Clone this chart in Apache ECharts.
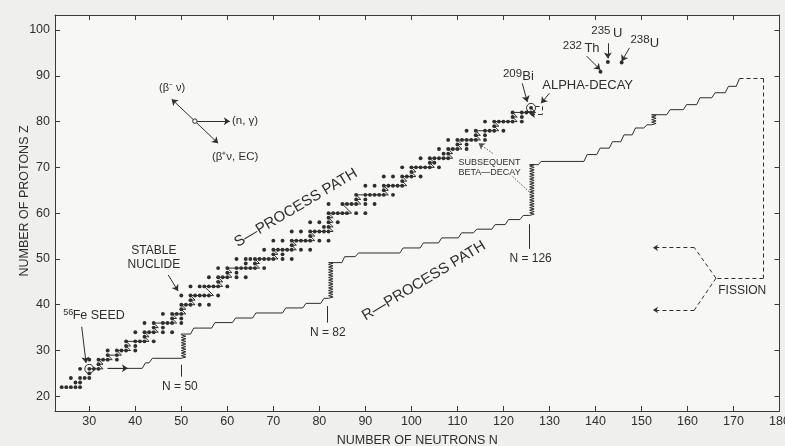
<!DOCTYPE html>
<html><head><meta charset="utf-8">
<script src="https://cdn.jsdelivr.net/npm/echarts@6/dist/echarts.min.js"></script>
<style>html,body{margin:0;padding:0;background:#efefed;}#c{width:785px;height:446px;}</style>
</head><body><div id="c"></div>
<script>
// ---------- axis ticks ----------
const xTicks = [30,40,50,60,70,80,90,100,110,120,130,140,150,160,170,180];
const yTicks = [20,30,40,50,60,70,80,90,100];

// ---------- stable nuclides (Z and their neutron numbers N) ----------
const stableZ = [22,23,24,25,26,27,28,29,30,31,32,33,34,35,36,37,38,39,40,41,42,44,45,46,47,48,49,50,51,52,53,54,55,56,57,58,59,60,62,63,64,65,66,67,68,69,70,71,72,73,74,75,76,77,78,79,80,81,82,83];
const stableN = [
[24,25,26,27,28],[27,28],[26,28,29,30],[30],[28,30,31,32],[32],[30,32,33,34,36],[34,36],
[34,36,37,38,40],[38,40],[38,40,41,42,44],[42],[40,42,43,44,46,48],[44,46],[42,44,46,47,48,50],
[48,50],[46,48,49,50],[50],[50,51,52,54,56],[52],[50,52,53,54,55,56,58],[52,54,55,56,57,58,60],
[58],[56,58,59,60,62,64],[60,62],[58,60,62,63,64,65,66,68],[64,66],[62,64,65,66,67,68,69,70,72,74],
[70,72],[68,70,71,72,73,74,76,78],[74],[70,72,74,75,76,77,78,80,82],[78],[74,76,78,79,80,81,82],
[81,82],[78,80,82,84],[82],[82,83,84,85,86,88,90],[82,85,86,87,88,90,92],[88,90],
[88,90,91,92,93,94,96],[94],[90,92,94,95,96,97,98],[98],[94,96,98,99,100,102],[100],
[98,100,101,102,103,104,106],[104,105],[102,104,105,106,107,108],[107,108],[106,108,109,110,112],
[110,112],[108,110,111,112,113,114,116],[114,116],[112,114,116,117,118,120],[118],
[116,118,119,120,121,122,124],[122,124],[122,124,125,126],[126]
];
// Th / U nuclei as drawn
const heavyN = [141.1, 142.7, 145.7];
const heavyZ = [90.9, 93.0, 92.9];
// circled nuclei: 56Fe seed, 209Bi
const circledN = [30, 126];
const circledZ = [26, 83];

// ---------- s-process path ----------
const sPathN = [30,33,32,33,32,35,34,37,36,39,38,39,38,43,42,43,42,45,44,45,44,49,48,49,48,51,50,51,50,53,52,53,52,57,56,55,59,58,59,58,61,60,61,60,67,66,67,66,71,70,71,70,75,74,75,74,79,78,79,78,83,82,83,82,83,82,83,82,87,86,85,89,88,89,88,95,94,95,94,99,98,99,98,101,100,101,100,105,104,105,104,109,108,109,108,111,110,111,110,115,114,115,114,119,118,119,118,123,122,123,122,127,126];
const sPathZ = [26,26,27,27,28,28,29,29,30,30,31,31,32,32,33,33,34,34,35,35,36,36,37,37,38,38,39,39,40,40,41,41,42,42,43,44,44,45,45,46,46,47,47,48,48,49,49,50,50,51,51,52,52,53,53,54,54,55,55,56,56,57,57,58,58,59,59,60,60,61,62,62,63,63,64,64,65,65,66,66,67,67,68,68,69,69,70,70,71,71,72,72,73,73,74,74,75,75,76,76,77,77,78,78,79,79,80,80,81,81,82,82,83];

// ---------- r-process path (segments between the magic-number risers) ----------
const rSegA_N = [34,41.5,42.2,43.0,43.7,50];
const rSegA_Z = [26.1,26.1,27.3,27.3,28.3,28.3];
const rSegB_N = [50,52.0,52.7,56.6,57.3,61.1,61.8,65.5,66.2,72.0,72.7,76.4,77.1,80.3,81.0,82];
const rSegB_Z = [33.6,33.6,34.9,34.9,36.1,36.1,37.1,37.1,38.2,38.2,39.3,39.3,40.3,40.3,41.4,41.4];
const rSegC_N = [82,84.9,85.5,87.8,88.5,97.5,98.2,101.9,102.6,105.9,106.6,110.2,110.9,113.5,114.2,117.5,118.2,120.4,121.1,123.6,124.3,125.7];
const rSegC_Z = [49.2,49.2,50.5,50.5,51.3,51.3,52.4,52.4,53.5,53.5,54.6,54.6,55.7,55.7,56.5,56.5,57.5,57.5,58.6,58.6,59.5,59.5];
const rSegD_N = [125.7,127.6,128.2,137.5,138.2,140.3,141.0,143.0,143.7,145.5,146.2,148.0,148.7,150.5,151.2,152.2];
const rSegD_Z = [70.6,70.6,71.3,71.3,72.8,72.8,74.2,74.2,75.6,75.6,77.1,77.1,78.6,78.6,79.3,79.3];
const rSegE_N = [152.2,155.5,156.2,159.1,159.8,162.0,162.7,165.3,166.0,168.2,168.9,170.6,171.3];
const rSegE_Z = [81.5,81.5,82.6,82.6,83.7,83.7,85.2,85.2,86.3,86.3,87.7,87.7,89.4];
// vertical risers at closed shells: [N, Zbottom, Ztop]
const rRisers = [[50,28.3,33.6],[82,41.4,49.2],[125.7,59.5,70.6],[152.2,79.3,81.5]];

// ---------- dashed fission / alpha paths ----------
const fissionPathN = [171.3,176.5,176.5,166.2];
const fissionPathZ = [89.4,89.4,45.8,45.8];
const fissionUpN = [166.2,161.5,152.5];
const fissionUpZ = [45.8,52.45,52.45];
const fissionLowN = [166.2,161.5,152.5];
const fissionLowZ = [45.8,38.85,38.85];
const alphaN = [127.0,128.4,128.4,125.8];
const alphaZ = [83.3,83.3,81.5,81.5];

// ---------- annotation arrows [fromN, fromZ, toN, toZ] ----------
const pointerArrows = [
  [34,26.1,38.4,26.1],        // r-path direction
  [28.35,35.2,29.3,27.3],     // 56Fe seed
  [47.15,46.5,49.3,43.0],     // stable nuclide
  [124.1,88.35,125.2,84.3],   // 209Bi
  [130.0,86.2,128.2,84.0],    // alpha-decay
  [138.1,94.3,141.05,91.3],   // 232Th
  [142.7,97.1,142.7,93.8],    // 235U
  [147.4,96.1,145.7,93.2],    // 238U
  [52.95,80.1,60.55,80.1],    // (n,gamma)
  [52.95,80.1,47.9,84.9],     // beta-
  [52.95,80.1,58.0,75.25]     // beta+
];
const dottedArrows = [[117.7,73.05,114.6,75.25]];
const dottedLines = [[122.0,68.0,125.55,64.7]];
const plainLines = [[49.9,26.9,49.9,24.3],[81.7,39.7,81.7,36.1],[125.7,57.6,125.7,52.2]];
const legendOrigin = [[52.95,80.1]];

// ---------- text annotations ----------
const annoText = ['(n, γ)','(β⁻ ν)','(β⁺ν, EC)','56','Fe SEED','STABLE\nNUCLIDE','S—PROCESS PATH','R—PROCESS PATH',
  'N = 50','N = 82','N = 126','SUBSEQUENT\nBETA—DECAY','209','Bi','ALPHA-DECAY','232','Th','235','U','238','U','FISSION'];
const annoN = [61.0,48.0,56.65,24.35,26.4,44.05,74.9,102.7,49.7,81.85,125.9,117.0,119.9,124.1,138.3,132.9,137.6,139.1,143.8,147.6,151.8,171.9];
const annoZ = [80.1,87.35,72.3,38.3,37.6,50.3,61.15,45.2,22.0,34.0,50.0,70.05,90.4,89.8,88.0,96.5,96.0,99.85,99.3,97.96,97.1,43.0];

// ---------- styling (not data) ----------
const INK = '#2e2e2e';
const AX = '#3a3a3a';
const FONT = '"Liberation Sans", Arial, Helvetica, sans-serif';
const annoStyle = [
  {fs:11.5,al:'left'},{fs:11,al:'center'},{fs:11.5,al:'left'},{fs:9,al:'left'},{fs:12.5,al:'left'},
  {fs:12,al:'center',lh:13.5},{fs:15,al:'center',rot:30.7},{fs:15,al:'center',rot:31},
  {fs:12,al:'center'},{fs:12,al:'center'},{fs:12,al:'center'},{fs:9,al:'center',lh:10},
  {fs:11.5,al:'left'},{fs:13,al:'left'},{fs:13,al:'center'},{fs:11.5,al:'left'},{fs:13,al:'left'},
  {fs:11.5,al:'left'},{fs:13,al:'left'},{fs:11.5,al:'left'},{fs:13,al:'left'},{fs:12,al:'center'}
];

function zip(a,b){ const o=[]; for(let i=0;i<Math.min(a.length,b.length);i++) o.push([a[i],b[i]]); return o; }
function segs(list){ return list.map(s=>({coords:[[s[0],s[1]],[s[2],s[3]]]})); }
function polySegs(ns,zs){ const o=[]; for(let i=0;i<ns.length-1;i++) o.push({coords:[[ns[i],zs[i]],[ns[i+1],zs[i+1]]]}); return o; }

const stableData = [];
stableZ.forEach((z,i)=>stableN[i].forEach(n=>stableData.push([n,z])));

function pathSeries(ns,zs){
  return {type:'line', data:zip(ns,zs), showSymbol:false, symbol:'none', silent:true, z:3,
    lineStyle:{color:INK,width:1}, animation:false};
}

const option = {
  animation:false,
  backgroundColor:'#efefed',
  textStyle:{fontFamily:FONT},
  grid:{left:55,right:5.5,top:15,bottom:35,show:true,backgroundColor:'#f7f7f5',borderWidth:0,
        containLabel:false,outerBoundsMode:'none'},
  xAxis:[
    {type:'value',min:22.55,max:180,position:'bottom',
     axisLine:{show:true,onZero:false,lineStyle:{color:AX,width:1}},
     axisTick:{show:true,inside:true,length:5,customValues:xTicks,lineStyle:{color:AX}},
     axisLabel:{customValues:xTicks,color:INK,fontSize:12.5,margin:4,fontFamily:FONT},
     splitLine:{show:false},
     name:'NUMBER OF NEUTRONS N',nameLocation:'middle',nameGap:30,nameMoveOverlap:false,
     nameTextStyle:{color:INK,fontSize:12.5,fontFamily:FONT,verticalAlign:'middle'}},
    {type:'value',min:22.55,max:180,position:'top',
     axisLine:{show:true,onZero:false,lineStyle:{color:AX,width:1}},
     axisTick:{show:true,inside:true,length:5,customValues:xTicks,lineStyle:{color:AX}},
     axisLabel:{show:false},splitLine:{show:false}}
  ],
  yAxis:[
    {type:'value',min:16.79,max:103.28,position:'left',
     axisLine:{show:true,onZero:false,lineStyle:{color:AX,width:1}},
     axisTick:{show:true,inside:true,length:5,customValues:yTicks,lineStyle:{color:AX}},
     axisLabel:{customValues:yTicks,color:INK,fontSize:12.5,margin:5,fontFamily:FONT},
     splitLine:{show:false},
     name:'NUMBER OF PROTONS Z',nameLocation:'middle',nameGap:30,nameRotate:90,nameMoveOverlap:false,
     nameTextStyle:{color:INK,fontSize:12.5,fontFamily:FONT,verticalAlign:'middle',padding:[0,0,0,24]}},
    {type:'value',min:16.79,max:103.28,position:'right',
     axisLine:{show:true,onZero:false,lineStyle:{color:AX,width:1}},
     axisTick:{show:true,inside:true,length:5,customValues:yTicks,lineStyle:{color:AX}},
     axisLabel:{show:false},splitLine:{show:false}}
  ],
  series:[
    pathSeries(sPathN,sPathZ),
    pathSeries(rSegA_N,rSegA_Z),
    pathSeries(rSegB_N,rSegB_Z),
    pathSeries(rSegC_N,rSegC_Z),
    pathSeries(rSegD_N,rSegD_Z),
    pathSeries(rSegE_N,rSegE_Z),
    {type:'custom', data:rRisers, encode:{x:0,y:[1,2]}, silent:true, z:3,
     renderItem:function(params,api){
       const n=api.value(0), z0=api.value(1), z1=api.value(2);
       const a=api.coord([n,z0]), b=api.coord([n,z1]);
       const pts=[[a[0],a[1]]]; const pitch=1.3, amp=4.5; let y=a[1], k=0;
       while(y-pitch>b[1]){ y-=pitch; k++; pts.push([a[0]+(k%2?amp:0),y]); }
       pts.push([b[0],b[1]]);
       return {type:'polyline',shape:{points:pts},style:{stroke:INK,fill:null,lineWidth:1}};
     }},
    {type:'scatter', data:stableData, symbol:'circle', symbolSize:3.9, silent:true, z:5,
     itemStyle:{color:INK,opacity:1}},
    {type:'scatter', data:zip(heavyN,heavyZ), symbol:'circle', symbolSize:3.9, silent:true, z:5,
     itemStyle:{color:INK,opacity:1}},
    {type:'scatter', data:zip(circledN,circledZ), symbol:'circle', symbolSize:9, silent:true, z:6,
     itemStyle:{color:'rgba(0,0,0,0)',borderColor:INK,borderWidth:1,opacity:1}},
    {type:'scatter', data:legendOrigin, symbol:'circle', symbolSize:4.5, silent:true, z:6,
     itemStyle:{color:'#f7f7f5',borderColor:INK,borderWidth:1,opacity:1}},
    {type:'lines', coordinateSystem:'cartesian2d', silent:true, z:4,
     data:polySegs(fissionPathN,fissionPathZ).concat(polySegs(fissionUpN.slice(0,2),fissionUpZ.slice(0,2)),
       polySegs(fissionLowN.slice(0,2),fissionLowZ.slice(0,2)),polySegs(alphaN.slice(0,3),alphaZ.slice(0,3))),
     symbol:['none','none'], lineStyle:{color:INK,width:1,type:[4,3],opacity:1}},
    {type:'lines', coordinateSystem:'cartesian2d', silent:true, z:4,
     data:polySegs(fissionUpN.slice(1),fissionUpZ.slice(1)).concat(polySegs(fissionLowN.slice(1),fissionLowZ.slice(1)),
       polySegs(alphaN.slice(2),alphaZ.slice(2))),
     symbol:['none','arrow'], symbolSize:5, lineStyle:{color:INK,width:1,type:[4,3],opacity:1}},
    {type:'lines', coordinateSystem:'cartesian2d', silent:true, z:4, data:segs(pointerArrows),
     symbol:['none','arrow'], symbolSize:6, lineStyle:{color:INK,width:1,opacity:1}},
    {type:'lines', coordinateSystem:'cartesian2d', silent:true, z:4, data:segs(dottedArrows),
     symbol:['none','arrow'], symbolSize:6, lineStyle:{color:'#555',width:1,type:[1.5,1.5],opacity:1}},
    {type:'lines', coordinateSystem:'cartesian2d', silent:true, z:4, data:segs(dottedLines),
     symbol:['none','none'], lineStyle:{color:'#555',width:1,type:[1.5,1.5],opacity:1}},
    {type:'lines', coordinateSystem:'cartesian2d', silent:true, z:4, data:segs(plainLines),
     symbol:['none','none'], lineStyle:{color:INK,width:1,opacity:1}},
    {type:'custom', data:annoN.map((n,i)=>[n,annoZ[i],i]), encode:{x:0,y:1}, silent:true, z:8,
     renderItem:function(params,api){
       const i=api.value(2); const st=annoStyle[i];
       const p=api.coord([api.value(0),api.value(1)]);
       return {type:'text', x:p[0], y:p[1], rotation:(st.rot||0)*Math.PI/180,
         style:{text:annoText[i], fill:INK, fontSize:st.fs, fontFamily:FONT,
           align:st.al, verticalAlign:'middle', textAlign:st.al, textVerticalAlign:'middle',
           lineHeight:st.lh||st.fs*1.2}};
     }}
  ]
};
const chart = echarts.init(document.getElementById('c'), null, {renderer:'canvas'});
chart.setOption(option);
</script></body></html>
